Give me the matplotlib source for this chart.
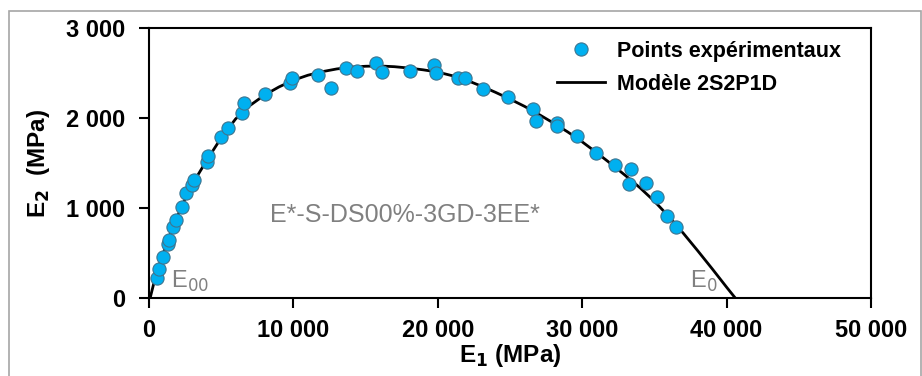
import matplotlib
matplotlib.use('Agg')
import matplotlib.pyplot as plt
from matplotlib.patches import Rectangle
from matplotlib.ticker import FuncFormatter

plt.rcParams['font.family'] = ['Liberation Sans', 'DejaVu Sans']

# experimental points (E1, E2) in MPa
e1_pts = [533, 713, 948, 1293, 1406, 1684, 1870, 2262, 2562, 2955, 3116,
          3995, 4107, 4986, 5450, 6461, 6600, 8033, 9765, 9880, 11725,
          12604, 13621, 14425, 15720, 16157, 18075, 19737, 19875, 21420,
          21884, 23154, 24883, 26616, 26801, 28233, 28278, 29617, 30956,
          32271, 33357, 33264, 34418, 35200, 35893, 36475]
e2_pts = [219, 319, 452, 600, 644, 792, 867, 1015, 1163, 1256, 1311,
          1515, 1578, 1793, 1885, 2059, 2170, 2263, 2392, 2441, 2478,
          2337, 2552, 2522, 2615, 2515, 2522, 2589, 2504, 2441,
          2441, 2319, 2230, 2096, 1967, 1948, 1911, 1800, 1615,
          1478, 1433, 1267, 1274, 1126, 915, 793]

# 2S2P1D model curve
e1_mod = [80, 250, 500, 1000, 1500, 2000, 2500, 3000, 4000, 5000, 6000,
          7000, 8000, 9000, 10000, 11000, 12000, 13000, 14000, 15000,
          16000, 17000, 18000, 19000, 20000, 21000, 22000, 23000, 24000,
          25000, 26000, 27000, 28000, 29000, 30000, 31000, 32000, 33000,
          34000, 35000, 36000, 37000, 38000, 39000, 40000, 40600]
e2_mod = [0, 110, 270, 500, 720, 920, 1100, 1265, 1530, 1780, 1990,
          2140, 2255, 2345, 2420, 2475, 2515, 2545, 2565, 2575,
          2578, 2570, 2555, 2535, 2510, 2470, 2420, 2355, 2285,
          2210, 2130, 2040, 1945, 1845, 1735, 1615, 1490, 1360,
          1225, 1075, 905, 720, 525, 325, 120, 0]

fig = plt.figure(figsize=(9.22, 3.76), dpi=100)
fig.patches.append(Rectangle((9 / 922, -0.01), 912 / 922, 1 - 11 / 376 + 0.01,
                             transform=fig.transFigure, fill=False,
                             edgecolor='#a6a6a6', lw=1.2))
ax = fig.add_axes([149 / 922, 78 / 376, 722 / 922, 270 / 376])

pts, = ax.plot(e1_pts, e2_pts, 'o', ms=9.5, mfc='#00b0f0', mec='#3d7590',
               mew=0.8, zorder=3, label='Points expérimentaux')
mod, = ax.plot(e1_mod, e2_mod, '-', color='black', lw=2, zorder=2,
               label='Modèle 2S2P1D')

ax.set_xlim(0, 50000)
ax.set_ylim(0, 3000)
ax.set_xticks(range(0, 50001, 10000))
ax.set_yticks(range(0, 3001, 1000))
fmt = FuncFormatter(lambda v, p: '{:,}'.format(int(v)).replace(',', ' '))
ax.xaxis.set_major_formatter(fmt)
ax.yaxis.set_major_formatter(fmt)
ax.tick_params(direction='out', length=7, width=1.5, labelsize=17)
ax.tick_params(axis='x', pad=8)
ax.tick_params(axis='y', pad=10)
for lbl in ax.get_xticklabels() + ax.get_yticklabels():
    lbl.set_fontweight('bold')
for s in ax.spines.values():
    s.set_linewidth(1.5)

ax.set_xlabel('E$_\\mathbf{1}$ (MPa)', fontsize=17.5, fontweight='bold', labelpad=0)
ax.set_ylabel('E$_\\mathbf{2}$  (MPa)', fontsize=17.5, fontweight='bold', labelpad=10)

ax.legend(handles=[pts, mod], loc='upper right', frameon=False,
          prop={'weight': 'bold', 'size': 15.5}, handlelength=2.2,
          handletextpad=0.6, labelspacing=0.55,
          borderaxespad=0.2, bbox_to_anchor=(0.977, 1.0))

ax.text(8380, 922, 'E*-S-DS00%-3GD-3EE*', color='#808080', fontsize=18,
        va='center', ha='left')
ax.text(1550, 40, 'E$_{00}$', color='#808080', fontsize=17, va='bottom')
ax.text(37450, 40, 'E$_0$', color='#808080', fontsize=17, va='bottom')

fig.savefig('out.png', dpi=100)
